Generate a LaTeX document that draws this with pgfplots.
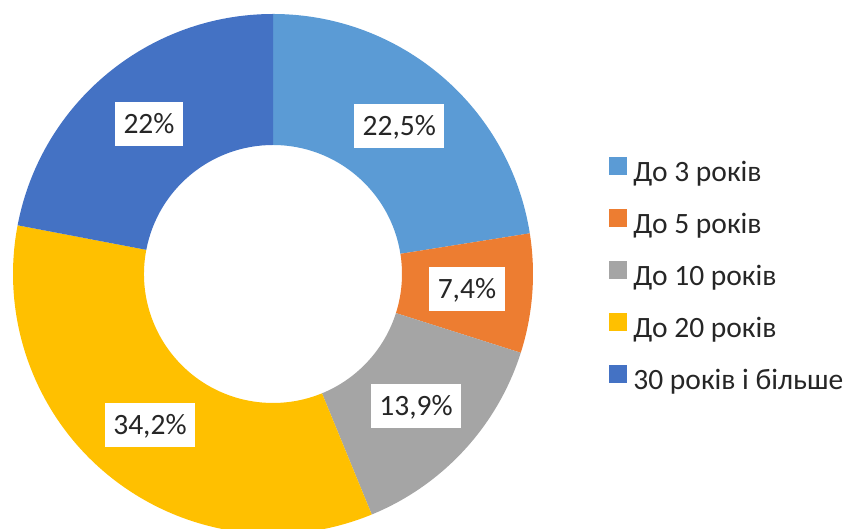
\documentclass[border=0pt]{standalone}
\usepackage{fontspec}
\setmainfont{Carlito}
\usepackage{pgfplots}
\pgfplotsset{compat=1.18}

\definecolor{c1}{HTML}{5B9BD5}
\definecolor{c2}{HTML}{ED7D31}
\definecolor{c3}{HTML}{A5A5A5}
\definecolor{c4}{HTML}{FFC000}
\definecolor{c5}{HTML}{4472C4}
\definecolor{txt}{HTML}{262626}

\tikzset{pctlabel/.style={fill=white, text=txt, font=\fontsize{29.5}{34}\selectfont,
    inner xsep=8.5pt, inner ysep=12.5pt, text height=19pt, text depth=0pt}}

\begin{document}
\begin{tikzpicture}
  \begin{axis}[
      scale only axis, width=849pt, height=529pt,
      xmin=0, xmax=849, ymin=0, ymax=529,
      hide axis,
      legend image code/.code={\fill[#1] (0pt,0.7pt) rectangle (17pt,17.7pt);},
      legend style={at={(0.7173,0.7032)}, anchor=north west, draw=none,
        fill=none, inner sep=0pt, outer sep=0pt, row sep=20pt, column sep=7pt,
        font=\fontsize{29.5}{34}\selectfont\color{txt},
        nodes={inner sep=0pt, text height=21pt, text depth=7pt, anchor=west}},
    ]
    % share in %, colour, label; slices go clockwise from the top
    \def\sa{90}
    \foreach \v/\col/\lab in {22.5/c1/{22,5\%}, 7.4/c2/{7,4\%}, 13.9/c3/{13,9\%},
                              34.2/c4/{34,2\%}, 22/c5/{22\%}}{
      \pgfmathsetmacro\ea{\sa-3.6*\v}
      \pgfmathsetmacro\eb{\ea+180}
      \pgfmathsetmacro\ma{(\sa+\ea)/2}
      \edef\temp{\noexpand\fill[\col] (axis cs:273,255) ++(\sa:260pt)
        arc[start angle=\sa, end angle=\ea, radius=260pt]
        -- ++(\eb:131pt)
        arc[start angle=\ea, end angle=\sa, radius=129pt] -- cycle;
        \noexpand\path (axis cs:273,255) ++(\ma:194.5pt)
        node[pctlabel] {\unexpanded\expandafter{\lab}};}
      \temp
      \global\let\sa\ea
    }
    \addlegendimage{c1}
    \addlegendimage{c2}
    \addlegendimage{c3}
    \addlegendimage{c4}
    \addlegendimage{c5}
    \legend{До 3 років, До 5 років, До 10 років, До 20 років, 30 років і більше}
  \end{axis}
  \pgfresetboundingbox
  \path[use as bounding box] (current axis.south west) rectangle (current axis.north east);
\end{tikzpicture}
\end{document}
